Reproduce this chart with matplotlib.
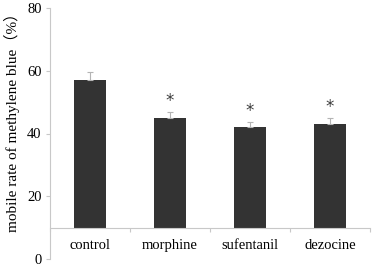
import matplotlib
matplotlib.use("Agg")
import matplotlib.pyplot as plt

categories = ["control", "morphine", "sufentanil", "dezocine"]
values = [57.0, 45.0, 42.0, 43.0]
errors = [2.5, 2.0, 1.8, 2.0]
significant = [False, True, True, True]
baseline = 10
yticks = [0, 20, 40, 60, 80]

serif = ["Liberation Serif", "Noto Sans CJK SC"]
plt.rcParams["font.family"] = serif

fig = plt.figure(figsize=(3.72, 2.68), dpi=100)
ax = fig.add_axes([50/372, 9/268, 320/372, 251/268])

x = [i + 0.5 for i in range(len(categories))]
heights = [v - baseline for v in values]
ax.bar(x, heights, bottom=baseline, width=0.4, color="#333333", zorder=2)
ax.errorbar(x, values, yerr=[[0]*len(errors), errors], fmt="none",
            ecolor="#b4b4b4", elinewidth=0.8, capsize=2, capthick=0.8, zorder=3)
for xi, v, e, s in zip(x, values, errors, significant):
    if s:
        ax.text(xi, v + e + 0.6, "*", ha="center", va="bottom",
                fontsize=12, color="#3a3a3a", family="DejaVu Sans")

ax.set_xlim(0, 4)
ax.set_ylim(0, 80)
ax.set_yticks(yticks)
ax.set_yticklabels([str(t) for t in yticks], fontsize=10.5)
ax.tick_params(axis="y", length=3, color="#c8c8c8", pad=3)

ax.spines["top"].set_visible(False)
ax.spines["right"].set_visible(False)
ax.spines["left"].set_color("#c8c8c8")
ax.spines["bottom"].set_color("#c8c8c8")
ax.spines["bottom"].set_position(("data", baseline))

ax.set_xticks([0, 1, 2, 3, 4])
ax.set_xticklabels([])
ax.tick_params(axis="x", which="major", length=3, color="#c8c8c8")
ax.set_xticks(x, labels=categories, minor=True)
ax.tick_params(axis="x", which="minor", length=0, pad=8, labelsize=10.5)

ax.set_ylabel("mobile rate of methylene blue（%）", fontsize=11, family=serif)
ax.yaxis.set_label_coords(-0.094, 0.56)

fig.savefig("out.png", dpi=100)
